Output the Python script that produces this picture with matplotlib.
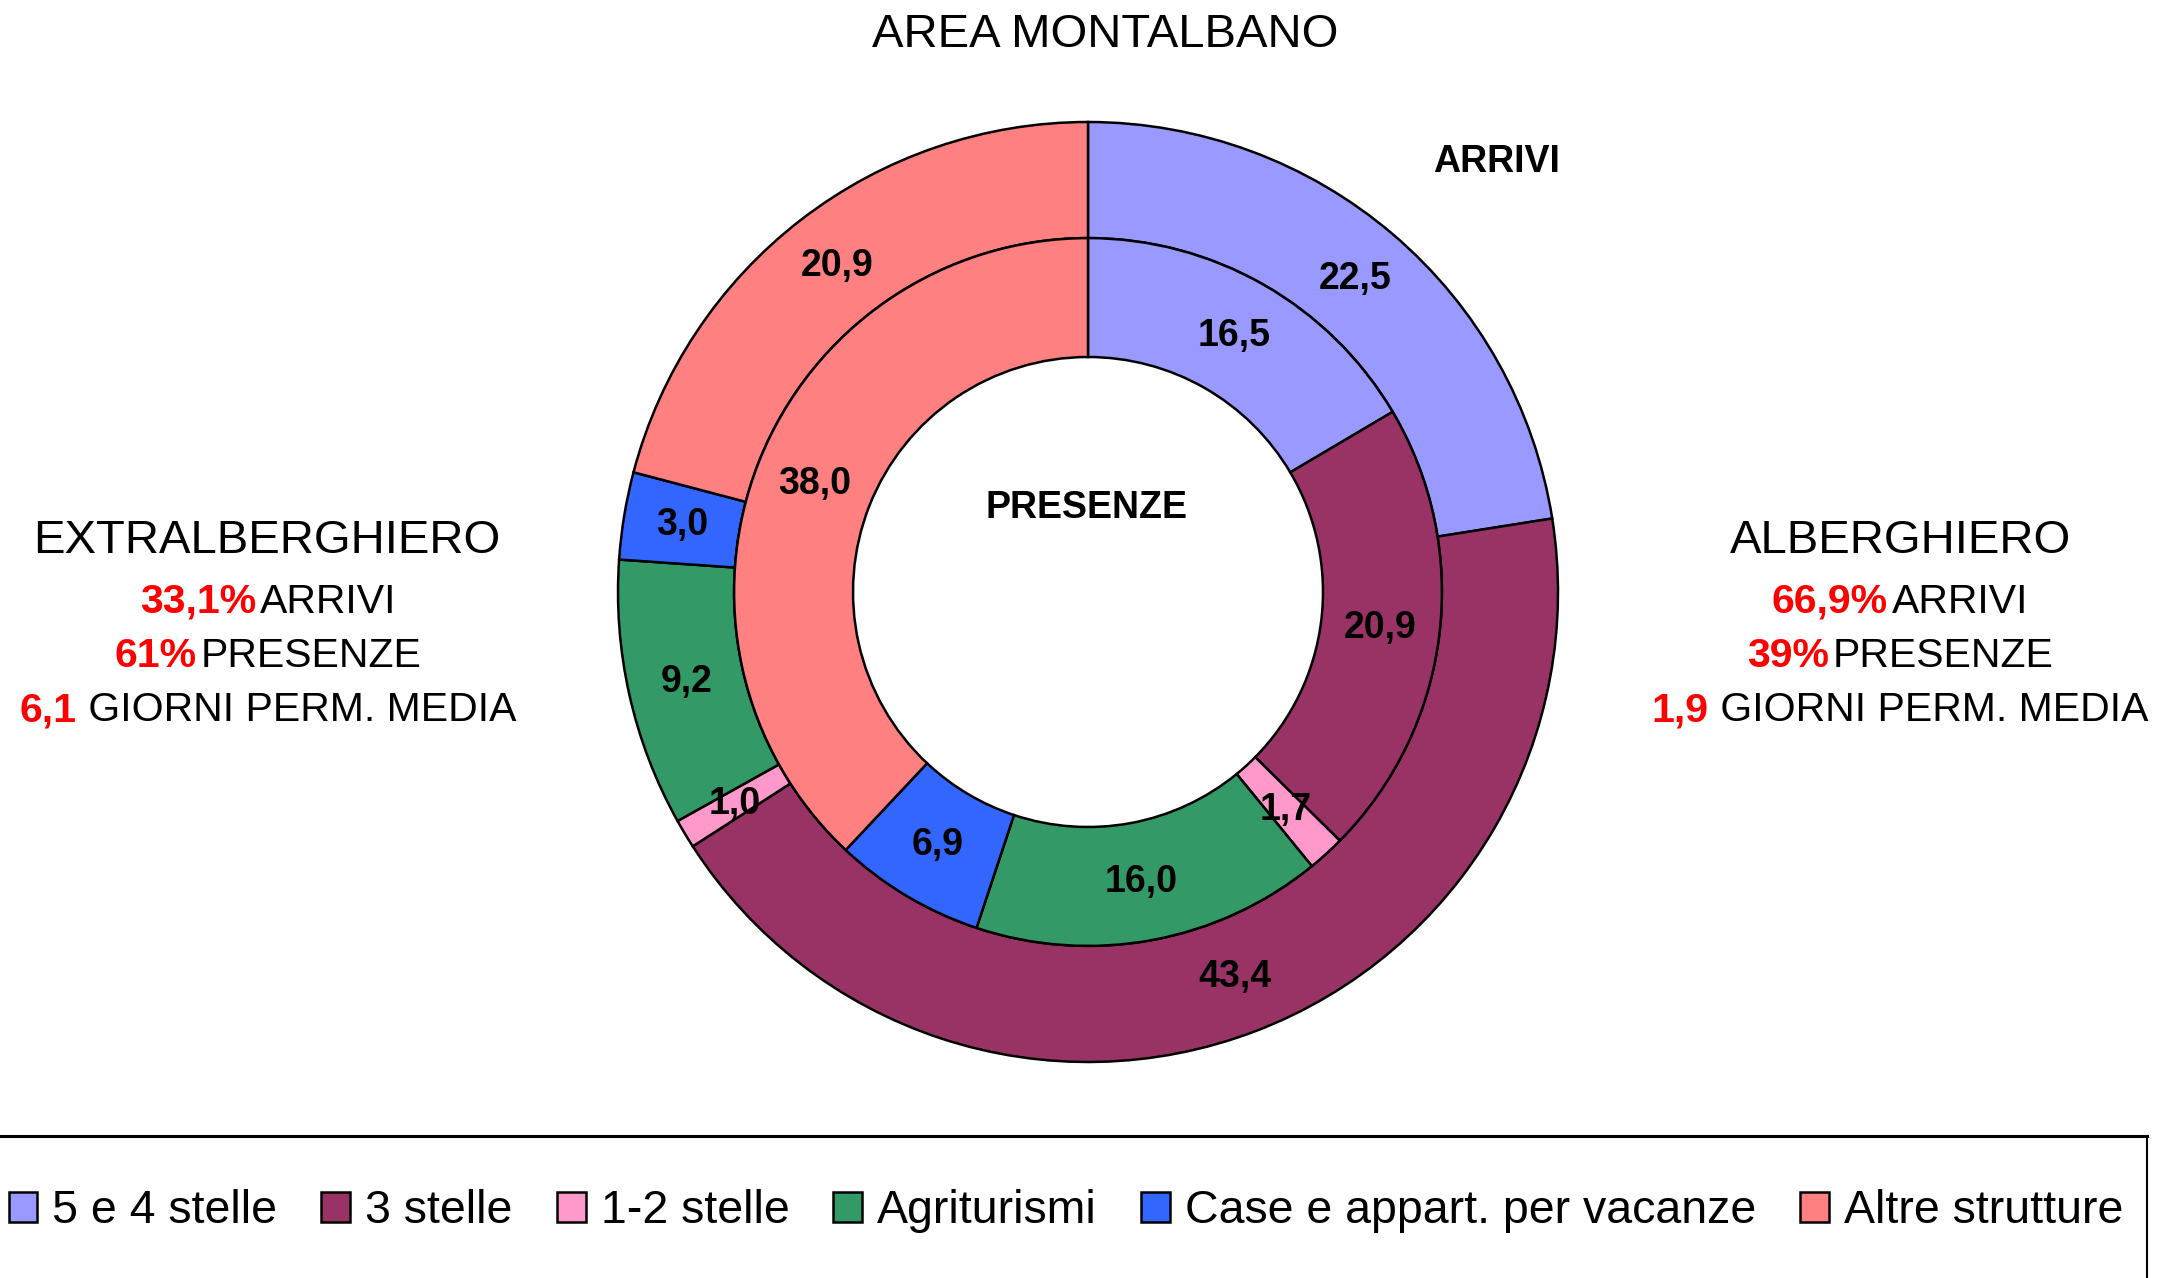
import matplotlib
matplotlib.use("Agg")
import matplotlib.pyplot as plt
from matplotlib.lines import Line2D

plt.rcParams['font.family'] = ['Liberation Sans', 'DejaVu Sans']

# quote percentuali per tipologia di struttura
categorie = ['5 e 4 stelle', '3 stelle', '1-2 stelle', 'Agriturismi',
             'Case e appart. per vacanze', 'Altre strutture']
arrivi = [22.5, 43.4, 1.0, 9.2, 3.0, 20.9]
presenze = [16.5, 20.9, 1.7, 16.0, 6.9, 38.0]
colori = ['#9999FF', '#993366', '#FF99CC', '#339966', '#3366FF', '#FF8080']

# riepilogo per comparto: (quota arrivi, quota presenze, permanenza media)
extralberghiero = ['33,1%', '61%', '6,1']
alberghiero = ['66,9%', '39%', '1,9']

W, H = 2168, 1278
CX, CY, R = 1088, 592, 470


def fpos(x, y):
    return x / W, 1 - y / H


def fmt(p):
    return f"{p:.1f}".replace('.', ',')


fig = plt.figure(figsize=(W / 100, H / 100), dpi=100)
ax = fig.add_axes([0, 0, 1, 1])

lab = dict(fontsize=27, fontweight='bold', color='black')
edge = dict(edgecolor='black', linewidth=1.8)

w_out, _, _ = ax.pie(arrivi, radius=1.0, startangle=90, counterclock=False,
                     colors=colori, autopct=fmt, pctdistance=0.876,
                     wedgeprops=dict(width=0.247, **edge), textprops=lab)
ax.pie(presenze, radius=0.753, startangle=90, counterclock=False,
       colors=colori, autopct=fmt, pctdistance=0.832,
       wedgeprops=dict(width=0.253, **edge), textprops=lab)

ax.set_aspect('auto')
ax.set_xlim(-CX / R, (W - CX) / R)
ax.set_ylim(-(H - CY) / R, CY / R)
ax.axis('off')

fig.text(*fpos(1105, 47), 'AREA MONTALBANO', fontsize=34, ha='center', va='baseline')
fig.text(*fpos(1497, 172), 'ARRIVI', fontsize=27, fontweight='bold', ha='center', va='baseline')
fig.text(*fpos(1087, 518), 'PRESENZE', fontsize=27, fontweight='bold', ha='center', va='baseline')

fig.text(*fpos(267, 553), 'EXTRALBERGHIERO', fontsize=34, ha='center', va='baseline')
fig.text(*fpos(1901, 553), 'ALBERGHIERO', fontsize=34, ha='center', va='baseline')

renderer = fig.canvas.get_renderer()


def stat_line(xc, y, num, rest, size=29.5, gap=4):
    t1 = fig.text(0, 0, num, color='red', fontweight='bold', fontsize=size, va='baseline')
    t2 = fig.text(0, 0, rest, color='black', fontsize=size, va='baseline')
    w1 = t1.get_window_extent(renderer).width
    w2 = t2.get_window_extent(renderer).width
    x0 = xc - (w1 + gap + w2) / 2
    t1.set_position(fpos(x0, y))
    t2.set_position(fpos(x0 + w1 + gap, y))


righe = ['ARRIVI', 'PRESENZE', ' GIORNI PERM. MEDIA']
basi = [613, 667, 721]
for num, testo, y in zip(extralberghiero, righe, basi):
    stat_line(268, y, num, testo, gap=0 if testo.startswith(' ') else 4)
for num, testo, y in zip(alberghiero, righe, basi):
    stat_line(1900, y, num, testo, gap=0 if testo.startswith(' ') else 4)

fig.legend(w_out, categorie, loc='center', bbox_to_anchor=fpos(1066, 1211),
           ncol=6, frameon=False, fontsize=33.5, handlelength=0.62,
           handleheight=0.62, handletextpad=0.32, columnspacing=0.95,
           borderaxespad=0)

# cornice della legenda (aperta a sinistra e in basso)
fig.add_artist(Line2D([0, 2147 / W], [1 - 1136 / H] * 2, transform=fig.transFigure,
                      color='black', linewidth=2.2))
fig.add_artist(Line2D([2147 / W] * 2, [1 - 1136 / H, 0], transform=fig.transFigure,
                      color='black', linewidth=1.5))

fig.savefig('out.png', dpi=100)
